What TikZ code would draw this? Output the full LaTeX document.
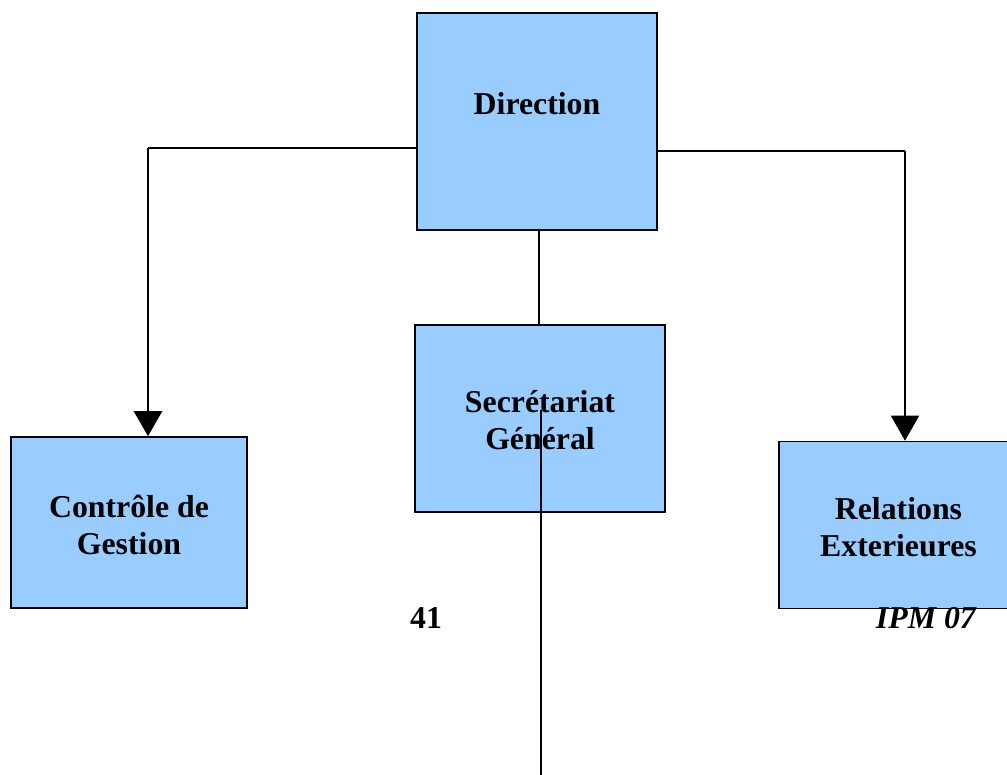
\documentclass[tikz,border=0pt]{standalone}
\usepackage{fontspec}
\setmainfont{Liberation Serif}
\usetikzlibrary{arrows.meta}
\begin{document}
\begin{tikzpicture}[x=1pt,y=-1pt,
  box/.style={draw=black,line width=1.6pt,fill=boxblue,rectangle,inner sep=0pt},
  lbl/.style={font=\fontsize{31.8}{36.5}\selectfont\bfseries,align=center,inner sep=0pt},
  link/.style={draw=black,line width=1.6pt},
  tip/.style={-{Triangle[length=25pt,width=28pt]}}]
\definecolor{boxblue}{HTML}{99CCFF}
\useasboundingbox (0,0) rectangle (1007,775);
\clip (0,0) rectangle (1007,775);
% boxes
\node[box,minimum width=240pt,minimum height=217pt] (dir) at (537,121.5) {};
\node[box,minimum width=250pt,minimum height=187pt] (sec) at (540,418.5) {};
\node[box,minimum width=236pt,minimum height=171pt] (ctl) at (129,522.5) {};
\node[box,minimum width=239pt,minimum height=167pt] (rel) at (898.5,525) {};
% box titles
\node[lbl] (tdir) at (537,104) {Direction};
\node[lbl] (tsec) at (540,420) {Secrétariat\\Général};
\node[lbl] (tctl) at (129,525) {Contrôle de\\Gestion};
\node[lbl] (trel) at (898.5,527) {Relations\\Exterieures};
% page footer
\node[lbl] (pg) at (426,618) {41};
\node[lbl,font=\fontsize{31.8}{36.5}\selectfont\bfseries\itshape,anchor=east] (ipm) at (976,618) {IPM 07};
% connectors
\coordinate (lk) at (148,148);
\coordinate (rk) at (905,151);
\draw[link] (dir.west |- lk) -- (lk);
\draw[link,line width=2.6pt,tip] (lk) -- (ctl.north -| lk);
\draw[link] (dir.east |- rk) -- (rk);
\draw[link,tip] (rk) -- (rel.north -| rk);
\draw[link] (dir.south -| 539,0) -- (sec.north -| 539,0);
\coordinate (vtop) at (541,410);
\coordinate (vbot) at (541,775);
\draw[link] (vtop) -- (vbot);
\end{tikzpicture}
\end{document}
